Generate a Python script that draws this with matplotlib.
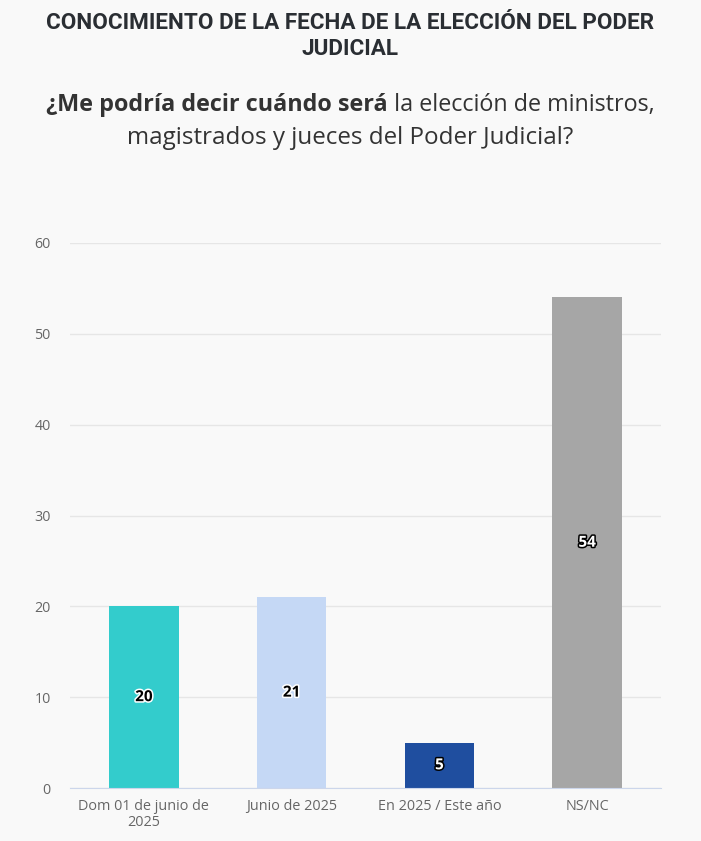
import matplotlib.pyplot as plt
import matplotlib.patheffects as pe

categories = ["Dom 01 de junio de\n2025", "Junio de 2025", "En 2025 / Este año", "NS/NC"]
values = [20, 21, 5, 54]
colors = ["#33cccc", "#c5d8f5", "#1f4e9f", "#a6a6a6"]
label_dark = [True, True, False, False]  # dark text on light bars

TITLE = "CONOCIMIENTO DE LA FECHA DE LA ELECCIÓN DEL PODER\nJUDICIAL"
SUB_BOLD = "¿Me podría decir cuándo será"
SUB_REST = " la elección de ministros,"
SUB_LINE2 = "magistrados y jueces del Poder Judicial?"

BG = "#f9f9f9"
plt.rcParams["font.family"] = ["Open Sans", "DejaVu Sans"]

fig = plt.figure(figsize=(7.01, 8.41), dpi=100, facecolor=BG)
ax = fig.add_axes([70 / 701, 1 - 788 / 841, 591 / 701, 545 / 841], facecolor=BG)

x = range(len(values))
ax.bar(x, values, width=0.47, color=colors, zorder=2)
ax.set_xlim(-0.5, len(values) - 0.5)
ax.set_ylim(0, 60)
ax.set_yticks(range(0, 61, 10))
ax.grid(axis="y", color="#e6e6e6", linewidth=1, zorder=0)
for s in ["top", "right", "left"]:
    ax.spines[s].set_visible(False)
ax.spines["bottom"].set_color("#ccd6eb")
ax.tick_params(axis="y", length=0, pad=14, labelsize=10.3, labelcolor="#666666")
ax.tick_params(axis="x", length=0, pad=8, labelsize=10.4, labelcolor="#666666")
ax.set_xticks(list(x))
ax.set_xticklabels(categories, linespacing=1.05)

for i, v in enumerate(values):
    fc, ec = ("#000000", "#ffffff") if label_dark[i] else ("#ffffff", "#000000")
    ax.text(i, v / 2, f"{v}", ha="center", va="center", fontsize=11,
            fontweight="bold", color=fc, zorder=3,
            path_effects=[pe.withStroke(linewidth=2.2, foreground=ec)])

fig.text(0.5, 1 - 36 / 841, TITLE, ha="center", va="center", fontsize=16.2,
         fontweight="bold", color="#2a2e33", family=["Roboto", "DejaVu Sans"],
         linespacing=1.2)

# subtitle: bold lead-in followed by regular text, centered as one line
sub_y = 1 - 105 / 841
fig.canvas.draw()
r = fig.canvas.get_renderer()
tb = fig.text(0, sub_y, SUB_BOLD, fontsize=16.8, fontweight="bold",
              color="#333333", va="center")
tr = fig.text(0, sub_y, SUB_REST, fontsize=16.8, color="#333333", va="center")
wb = tb.get_window_extent(r).width / fig.bbox.width
wr = tr.get_window_extent(r).width / fig.bbox.width
x0 = 0.5 - (wb + wr) / 2
tb.set_x(x0)
tr.set_x(x0 + wb)
fig.text(0.5, 1 - 138 / 841, SUB_LINE2, ha="center", va="center",
         fontsize=17.4, color="#333333")

fig.savefig("out.png", dpi=100, facecolor=BG)
